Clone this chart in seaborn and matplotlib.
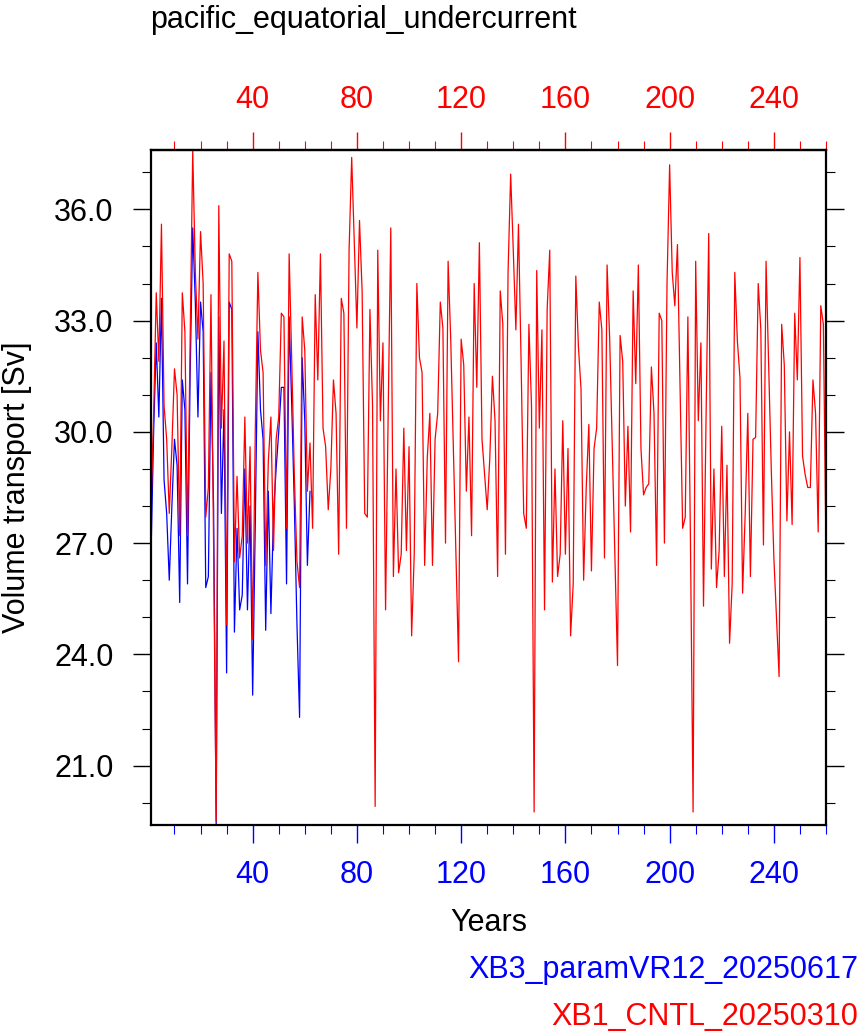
import matplotlib

matplotlib.use("Agg")
import matplotlib.pyplot as plt
import numpy as np
import pandas as pd
import seaborn as sns
from matplotlib.ticker import FormatStrFormatter, MultipleLocator

TITLE = "pacific_equatorial_undercurrent"
CNTL_NAME = "XB1_CNTL_20250310"
EXP_NAME = "XB3_paramVR12_20250617"

# annual mean volume transport [Sv], years 1..260 (control run)
cntl_transport = [
    28.0, 30.5, 33.75, 31.9, 35.6, 30.7, 29.8, 27.8, 29.6, 31.7,
    31.0, 27.2, 33.75, 32.7, 27.2, 32.4, 37.6, 34.3, 32.5, 35.4,
    34.0, 27.7, 28.5, 33.7, 27.0, 19.5, 36.1, 30.1, 32.45, 24.8,
    34.8, 34.6, 26.5, 28.8, 26.6, 27.2, 30.4, 27.0, 29.6, 24.4,
    30.0, 34.3, 32.2, 31.6, 26.4, 29.2, 30.4, 26.8, 29.8, 30.4,
    33.2, 33.1, 27.4, 34.8, 31.9, 28.8, 26.5, 25.8, 33.1, 32.2,
    28.4, 29.7, 27.4, 33.7, 31.4, 34.8, 30.1, 29.6, 27.9, 29.0,
    31.4, 30.5, 26.7, 33.6, 33.2, 27.4, 34.9, 37.4, 35.1, 32.8,
    35.7, 33.8, 27.8, 27.7, 33.3, 30.7, 19.9, 34.9, 30.3, 32.4,
    25.2, 30.5, 35.5, 26.1, 29.0, 26.2, 26.7, 30.1, 26.8, 29.6,
    24.5, 26.7, 34.0, 32.0, 31.6, 26.4, 29.3, 30.5, 26.4, 29.8,
    30.5, 33.5, 32.8, 27.0, 34.6, 32.5, 29.6, 26.6, 23.8, 32.5,
    31.8, 28.4, 30.4, 27.2, 34.0, 31.2, 35.1, 29.8, 28.85, 27.9,
    29.3, 31.5, 30.3, 26.1, 33.8, 32.9, 26.7, 34.3, 36.95, 34.9,
    32.75, 35.6, 31.9, 27.8, 27.4, 32.9, 30.7, 19.75, 34.35, 30.1,
    32.75, 25.2, 33.3, 34.9, 25.95, 29.0, 26.1, 26.7, 30.3, 26.7,
    29.55, 24.5, 25.9, 34.2, 32.3, 31.15, 26.0, 28.5, 30.2, 26.25,
    29.55, 30.1, 33.5, 32.75, 26.6, 34.5, 32.5, 29.6, 26.6, 23.7,
    32.6, 31.9, 28.0, 30.15, 27.3, 33.8, 31.3, 34.5, 29.55, 28.3,
    28.5, 28.6, 31.75, 30.5, 26.4, 33.2, 33.0, 27.0, 34.0, 37.2,
    34.3, 33.4, 35.05, 31.3, 27.4, 27.7, 33.1, 27.0, 19.75, 34.6,
    30.3, 32.4, 25.3, 30.5, 35.35, 26.3, 29.0, 25.8, 26.8, 30.15,
    26.1, 29.1, 24.3, 25.9, 34.3, 32.45, 31.45, 25.65, 27.8, 30.5,
    26.1, 29.8, 29.85, 34.0, 32.75, 26.95, 34.6, 31.8, 29.0, 26.6,
    25.0, 23.4, 32.9, 31.8, 27.6, 30.0, 27.5, 33.2, 31.4, 34.7,
    29.35, 28.85, 28.5, 28.5, 31.4, 30.5, 27.3, 33.4, 32.9, 26.8,
]

# experiment run, years 1..62
exp_transport = [
    26.7, 30.0, 32.4, 30.4, 33.6, 28.7, 27.8, 26.0, 28.0, 29.8,
    29.1, 25.4, 31.4, 30.6, 25.9, 31.5, 35.5, 33.5, 30.4, 33.5,
    32.7, 25.8, 26.1, 31.6, 28.0, 19.4, 33.1, 27.8, 30.6, 23.5,
    33.5, 33.3, 24.6, 27.4, 25.2, 25.6, 29.0, 25.2, 28.0, 22.9,
    27.5, 32.7, 30.6, 29.8, 24.65, 28.4, 25.1, 27.8, 29.0, 30.0,
    31.2, 31.2, 25.9, 33.1, 30.7, 28.0, 24.8, 22.3, 32.0, 30.3,
    26.4, 28.4,
]

YEAR_MAJOR = [40, 80, 120, 160, 200, 240]
YEAR_MINOR = [10, 20, 30, 50, 60, 70, 90, 100, 110, 130, 140, 150,
              170, 180, 190, 210, 220, 230, 250, 260]


def main() -> None:
    sns.set_style("ticks")
    plt.rcParams["font.family"] = ["Liberation Sans", "DejaVu Sans"]
    plt.rcParams["font.size"] = 22
    plt.rcParams["text.color"] = "black"
    plt.rcParams["axes.labelcolor"] = "black"

    cntl = pd.DataFrame({"year": np.arange(1, len(cntl_transport) + 1), "sv": cntl_transport})
    exp = pd.DataFrame({"year": np.arange(1, len(exp_transport) + 1), "sv": exp_transport})

    fig = plt.figure(figsize=(8.65, 10.36), dpi=100)
    ax = fig.add_axes([0.1746, 0.2037, 0.7803, 0.6515])

    sns.lineplot(data=exp, x="year", y="sv", color="#0000ff", lw=0.9, ax=ax)
    sns.lineplot(data=cntl, x="year", y="sv", color="#ff0000", lw=0.9, ax=ax)

    ax.set_xlim(cntl["year"].min(), cntl["year"].max())
    ymin = min(cntl["sv"].min(), exp["sv"].min())
    ymax = max(cntl["sv"].max(), exp["sv"].max())
    ax.set_ylim(ymin, ymax)

    ax.set_xticks(YEAR_MAJOR)
    ax.set_xticks(YEAR_MINOR, minor=True)
    ax.yaxis.set_major_locator(MultipleLocator(3))
    ax.yaxis.set_minor_locator(MultipleLocator(1))
    ax.yaxis.set_major_formatter(FormatStrFormatter("%.1f"))

    ax.tick_params(axis="x", which="both", colors="#0000ff", direction="out",
                   labelsize=22, pad=12)
    ax.tick_params(axis="y", which="both", colors="black", direction="out",
                   left=True, right=True, labelsize=22, pad=14)
    ax.tick_params(which="major", length=13, width=1.0)
    ax.tick_params(which="minor", length=6.5, width=0.8)

    # top axis mirrors the years, in red
    top = ax.secondary_xaxis("top")
    top.set_xticks(YEAR_MAJOR)
    top.set_xticks(YEAR_MINOR, minor=True)
    top.tick_params(which="both", colors="#ff0000", direction="out", labelsize=22)
    top.tick_params(which="major", length=13, width=1.0, pad=12)
    top.tick_params(which="minor", length=6.5, width=0.8)
    top.spines["top"].set_color("black")
    top.spines["top"].set_linewidth(1.6)

    for side in ["left", "right", "bottom", "top"]:
        ax.spines[side].set_color("black")
        ax.spines[side].set_linewidth(1.6)

    ax.set_xlabel("Years", fontsize=22, labelpad=13)
    ax.set_ylabel("Volume transport [Sv]", fontsize=22, labelpad=16)

    fig.text(0.1734, 1 - 28 / 1036, TITLE, fontsize=22, ha="left", va="baseline")
    fig.text(858 / 865, 1 - 978 / 1036, EXP_NAME, color="#0000ff", fontsize=22,
             ha="right", va="baseline")
    fig.text(858 / 865, 1 - 1025 / 1036, CNTL_NAME, color="#ff0000", fontsize=22,
             ha="right", va="baseline")

    fig.savefig("out.png", dpi=100)
    plt.close(fig)


if __name__ == "__main__":
    main()
